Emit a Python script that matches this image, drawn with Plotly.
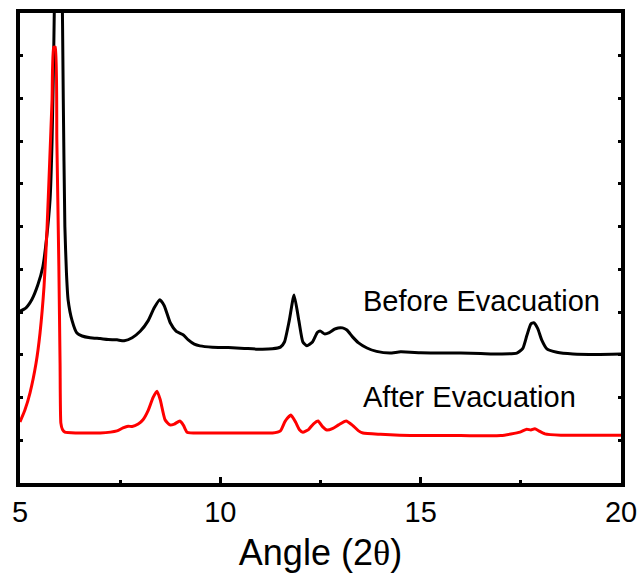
import plotly.graph_objects as go

# Before Evacuation (black)
x_before = [5.0, 5.15, 5.3, 5.45, 5.57, 5.66, 5.75, 5.80, 5.84, 5.88, 5.96, 6.04, 6.08, 6.12, 6.16, 6.20,
            6.30, 6.42, 6.55, 6.75, 7.0, 7.2, 7.42, 7.6, 7.8, 8.0, 8.2, 8.35, 8.49, 8.6, 8.75, 8.9,
            9.07, 9.2, 9.35, 9.49, 9.8, 10.2, 10.6, 11.0, 11.3, 11.5, 11.6, 11.72, 11.84, 11.96, 12.06,
            12.16, 12.3, 12.42, 12.49, 12.6, 12.72, 12.85, 12.94, 13.05, 13.16, 13.3, 13.45, 13.66,
            13.9, 14.23, 14.5, 15.0, 15.5, 16.0, 16.5, 17.0, 17.4, 17.55, 17.65, 17.75, 17.82, 17.92,
            18.02, 18.15, 18.4, 18.8, 19.4, 20.0]
y_before = [4.02, 4.10, 4.3, 4.65, 5.06, 5.7, 6.63, 8.0, 10.0, 12.5, 15.0, 12.5, 9.0, 6.0, 4.9, 4.29,
            3.8, 3.51, 3.44, 3.40, 3.38, 3.36, 3.35, 3.33, 3.40, 3.55, 3.8, 4.1, 4.29, 4.15, 3.75, 3.55,
            3.47, 3.35, 3.25, 3.21, 3.18, 3.17, 3.15, 3.13, 3.14, 3.18, 3.3, 3.8, 4.40, 3.8, 3.3,
            3.21, 3.3, 3.52, 3.56, 3.49, 3.52, 3.6, 3.63, 3.63, 3.58, 3.42, 3.28, 3.16,
            3.08, 3.04, 3.07, 3.05, 3.04, 3.04, 3.03, 3.02, 3.04, 3.15, 3.45, 3.72, 3.75, 3.62,
            3.35, 3.14, 3.06, 3.02, 3.01, 3.02]

# After Evacuation (red)
x_after = [5.0, 5.12, 5.25, 5.4, 5.5, 5.6, 5.67, 5.74, 5.8, 5.84, 5.88, 5.92, 5.97, 6.0, 6.02, 6.06,
           6.12, 6.4, 6.67, 7.0, 7.42, 7.57, 7.7, 7.8, 7.95, 8.07, 8.2, 8.32, 8.42, 8.5, 8.62, 8.74,
           8.85, 8.99, 9.08, 9.17, 9.49, 10.0, 10.5, 11.0, 11.3, 11.5, 11.62, 11.76, 11.88, 11.98,
           12.06, 12.2, 12.32, 12.44, 12.55, 12.66, 12.81, 12.95, 13.14, 13.3, 13.45, 13.56, 14.0,
           14.48, 15.0, 16.0, 17.0, 17.48, 17.65, 17.75, 17.85, 17.95, 18.1, 18.5, 19.0, 20.0]
y_after = [1.43, 1.7, 2.11, 2.8, 3.51, 4.6, 5.85, 7.5, 8.97, 10.2, 10.2, 8.0, 5.06, 2.8, 1.40, 1.25,
           1.19, 1.17, 1.17, 1.17, 1.22, 1.29, 1.33, 1.32, 1.38, 1.48, 1.7, 2.0, 2.15, 1.95, 1.48, 1.36,
           1.38, 1.45, 1.35, 1.19, 1.17, 1.17, 1.17, 1.17, 1.17, 1.22, 1.45, 1.59, 1.42, 1.24,
           1.19, 1.25, 1.38, 1.45, 1.32, 1.24, 1.28, 1.36, 1.45, 1.35, 1.22, 1.17, 1.14,
           1.12, 1.11, 1.11, 1.11, 1.19, 1.26, 1.24, 1.27, 1.22, 1.15, 1.12, 1.12, 1.12]

x_ticks = [5, 10, 15, 20]
x_tick_labels = ["5", "10", "15", "20"]

FONT = "Liberation Sans, Arial, sans-serif"

fig = go.Figure()
fig.add_trace(go.Scatter(x=x_before, y=y_before, mode="lines",
                         line=dict(color="black", width=3, shape="spline", smoothing=0.5),
                         showlegend=False))
fig.add_trace(go.Scatter(x=x_after, y=y_after, mode="lines",
                         line=dict(color="#ff0000", width=3, shape="spline", smoothing=0.5),
                         showlegend=False))

fig.add_annotation(x=13.52, y=4.26, text="Before Evacuation", showarrow=False,
                   xanchor="left", yanchor="middle", font=dict(family=FONT, size=29, color="black"))
fig.add_annotation(x=13.52, y=2.01, text="After Evacuation", showarrow=False,
                   xanchor="left", yanchor="middle", font=dict(family=FONT, size=29, color="black"))

fig.update_layout(
    width=642, height=577,
    margin=dict(l=20, r=21, t=13, b=94),
    plot_bgcolor="white", paper_bgcolor="white",
    font=dict(family=FONT, color="black"),
    xaxis=dict(range=[5, 20], tickvals=x_ticks, ticktext=x_tick_labels,
               ticks="inside", ticklen=6, tickwidth=3, tickcolor="black",
               minor=dict(tickvals=[7.5, 12.5, 17.5], ticks="inside", ticklen=3, tickwidth=3, tickcolor="black"),
               showline=True, linewidth=4, linecolor="black", mirror=True,
               showgrid=False, zeroline=False, automargin=False,
               tickfont=dict(family=FONT, size=29),
               title=dict(text='Angle (2<span style="font-family:Liberation Serif, Times New Roman, serif">θ</span>)',
                          font=dict(family=FONT, size=36), standoff=14)),
    yaxis=dict(range=[0, 11], dtick=1, tick0=0, showticklabels=False,
               ticks="inside", ticklen=3, tickwidth=3, tickcolor="black",
               showline=True, linewidth=4, linecolor="black", mirror="allticks",
               showgrid=False, zeroline=False, automargin=False),
)

fig.write_html("out.html")
